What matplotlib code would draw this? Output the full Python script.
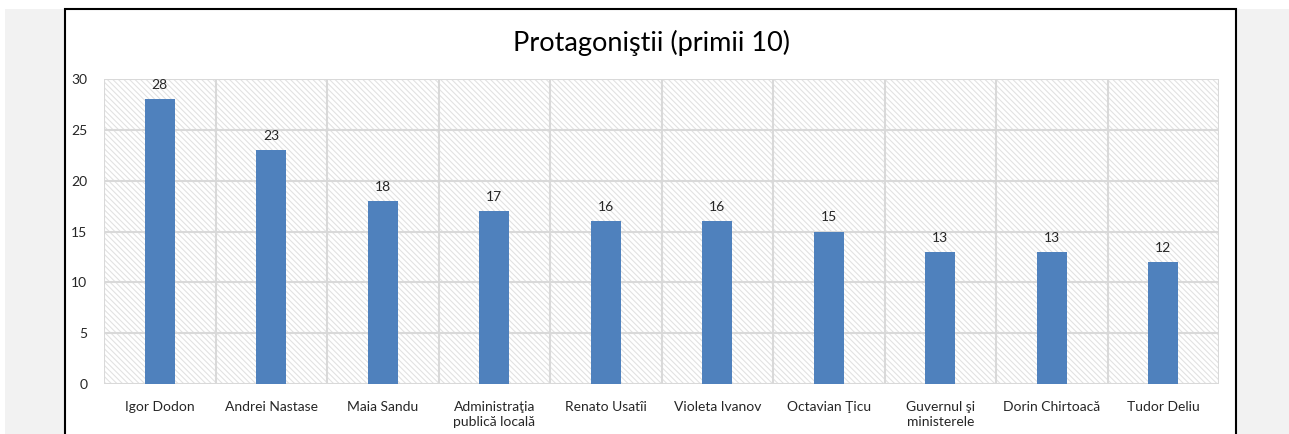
import matplotlib.pyplot as plt
from matplotlib.patches import Rectangle
import numpy as np

plt.rcParams['font.family'] = ['Lato', 'DejaVu Sans']
plt.rcParams['hatch.linewidth'] = 0.8

names = ["Igor Dodon", "Andrei Nastase", "Maia Sandu", "Administraţia\npublică locală",
         "Renato Usatîi", "Violeta Ivanov", "Octavian Ţicu", "Guvernul şi\nministerele",
         "Dorin Chirtoacă", "Tudor Deliu"]
counts = [28, 23, 18, 17, 16, 16, 15, 13, 13, 12]

fig = plt.figure(figsize=(12.89, 4.34), dpi=100)

# grey page behind the white chart box
fig.patches.append(Rectangle((5 / 1289, 0), 1, 1 - 9 / 434, transform=fig.transFigure,
                             facecolor="#f2f2f2", edgecolor="none", zorder=-3))
fig.patches.append(Rectangle((65 / 1289, -0.1), (1236 - 65) / 1289, 1.1 - 9 / 434,
                             transform=fig.transFigure, facecolor="white",
                             edgecolor="black", linewidth=1.5, zorder=-2))

ax = fig.add_axes([104 / 1289, 1 - 384 / 434, (1219 - 104) / 1289, (384 - 79) / 434])
ax.set_facecolor("none")

x = np.arange(len(names))
ax.set_xlim(-0.5, len(names) - 0.5)
ax.set_ylim(0, 30)

# hatched plot area
ax.add_patch(Rectangle((0, 0), 1, 1, transform=ax.transAxes, facecolor="white",
                       edgecolor="#e2e2e2", hatch="\\\\\\\\\\\\", linewidth=0, zorder=0))

for y in range(0, 31, 5):
    ax.axhline(y, color="#d9d9d9", linewidth=1.5, zorder=1)
for b in np.arange(-0.5, len(names), 1):
    ax.axvline(b, color="#d9d9d9", linewidth=1.5, zorder=1)

ax.bar(x, counts, width=0.27, color="#4f81bd", zorder=2)
for xi, c in zip(x, counts):
    ax.annotate(str(c), (xi, c), xytext=(0, 6), textcoords="offset points",
                ha="center", va="bottom", fontsize=10, color="#262626")

ax.set_xticks(x)
ax.set_xticklabels(names, fontsize=10, va="top", ha="center", linespacing=1.3)
ax.set_yticks(range(0, 31, 5))
ax.tick_params(axis="both", length=0, labelsize=10, labelcolor="#262626")
ax.tick_params(axis="x", pad=12)
ax.tick_params(axis="y", pad=12)
for s in ax.spines.values():
    s.set_visible(False)

fig.text(651 / 1289, 1 - 43 / 434, "Protagoniştii (primii 10)", ha="center", va="center",
         fontsize=19.5, color="black")

plt.savefig("out.png")
